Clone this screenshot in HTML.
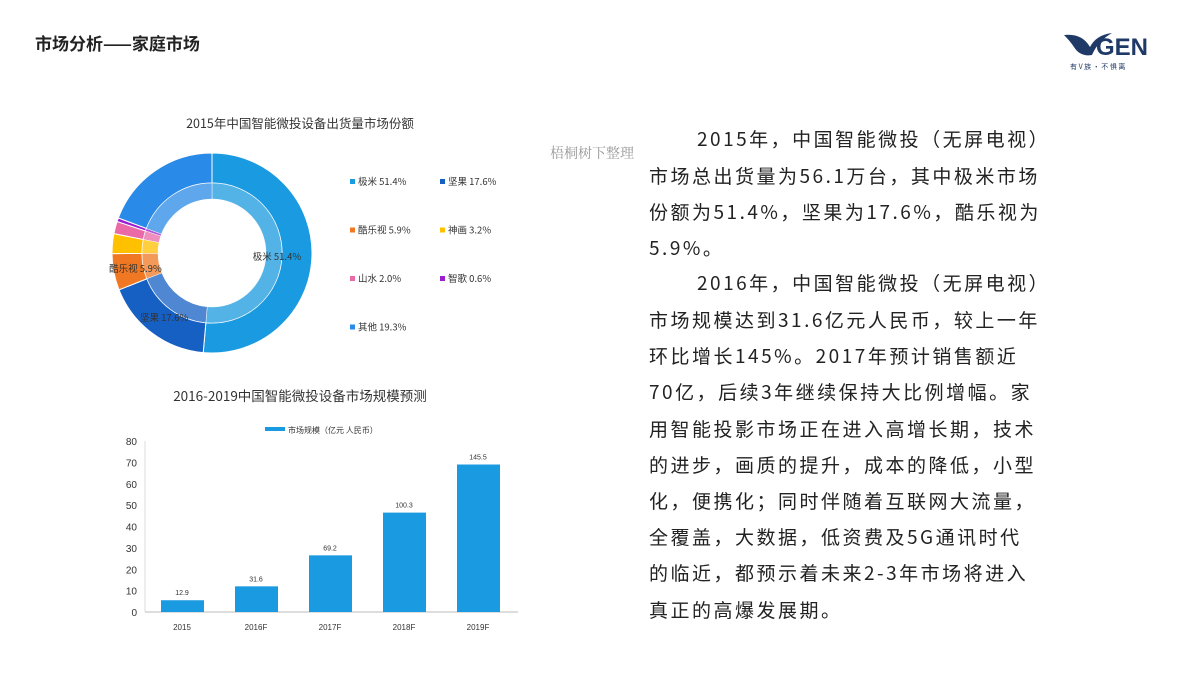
<!DOCTYPE html>
<html><head><meta charset="utf-8">
<style>
body{margin:0;width:1200px;height:675px;background:#fff;position:relative;overflow:hidden;font-family:"Liberation Sans","Noto Sans CJK SC",sans-serif;}
.abs{position:absolute;}
.para div{position:absolute;left:649px;white-space:nowrap;font-size:19px;color:#222;font-family:"Noto Sans CJK SC",sans-serif;letter-spacing:2.5px;}
</style></head><body>
<div class="abs" style="left:35px;top:30px;font-size:17px;font-weight:bold;color:#222;font-family:'Noto Sans CJK SC',sans-serif;">市场分析——家庭市场</div>
<div class="abs" style="left:1062px;top:25px;width:110px;height:50px;">
<svg width="110" height="50"><path d="M2 10 Q20 8 28 22 Q34 10 50 8 Q36 16 30 30 Q18 32 12 22 Q8 16 2 10Z" fill="#1f3a66"/>
<text x="34" y="30" font-family="Liberation Sans" font-weight="bold" font-size="24" fill="#1f3a66">GEN</text>
<text x="8" y="44" font-family="Noto Sans CJK SC" font-size="7" fill="#1f3a66">有 V 族 · 不 惧 离</text></svg></div>
<div class="abs" style="left:550px;top:143px;font-size:14px;color:#999;font-family:'Noto Serif CJK SC',serif;">梧桐树下整理</div>
<div class="para">
<div style="top:125px;left:697px">2015年，中国智能微投（无屏电视）</div>
<div style="top:162px">市场总出货量为56.1万台，其中极米市场</div>
<div style="top:198px">份额为51.4%，坚果为17.6%，酷乐视为</div>
<div style="top:234px">5.9%。</div>
<div style="top:269px;left:697px">2016年，中国智能微投（无屏电视）</div>
<div style="top:306px">市场规模达到31.6亿元人民币，较上一年</div>
<div style="top:342px">环比增长145%。2017年预计销售额近</div>
<div style="top:378px">70亿，后续3年继续保持大比例增幅。家</div>
<div style="top:415px">用智能投影市场正在进入高增长期，技术</div>
<div style="top:451px">的进步，画质的提升，成本的降低，小型</div>
<div style="top:487px">化，便携化；同时伴随着互联网大流量，</div>
<div style="top:523px">全覆盖，大数据，低资费及5G通讯时代</div>
<div style="top:559px">的临近，都预示着未来2-3年市场将进入</div>
<div style="top:596px">真正的高爆发展期。</div>
</div>
<svg id="donut" class="abs" style="left:0;top:0" width="540" height="380">
<text x="300" y="128" text-anchor="middle" font-size="12.5" fill="#333" font-family="Noto Sans CJK SC">2015年中国智能微投设备出货量市场份额</text>
</svg>
<svg id="bars" class="abs" style="left:0;top:380px" width="540" height="270">
<text x="300" y="21" text-anchor="middle" font-size="13.5" fill="#333" font-family="Noto Sans CJK SC">2016-2019中国智能微投设备市场规模预测</text>
<rect x="265" y="47" width="20" height="4" fill="#1a9ae0"/>
<text x="288" y="53" font-size="8" fill="#333" font-family="Noto Sans CJK SC">市场规模（亿元 人民币）</text>
</svg>
<script>
const sliceNames=["极米","坚果","酷乐视","神画","山水","智歌","其他"];
const sliceValues=[51.4,17.6,5.9,3.2,2.0,0.6,19.3];
const sliceColors=["#1a9ae0","#1660c4","#f07822","#ffc000","#ea6aa8","#9b1fd0","#2a8ae8"];
const barCats=["2015","2016F","2017F","2018F","2019F"];
const barHeights=[5.5,12,26.5,46.5,69];
const barLabels=["12.9","31.6","69.2","100.3","145.5"];
const yTicks=[0,10,20,30,40,50,60,70,80];
const NS="http://www.w3.org/2000/svg";
function mk(p,t,a){const e=document.createElementNS(NS,t);for(const k in a)e.setAttribute(k,a[k]);p.appendChild(e);return e;}
const d=document.getElementById('donut');const cx=212,cy=253,R=100,r2=70,r1=54;
const total=sliceValues.reduce((a,b)=>a+b,0);let acc=0;
function pt(rr,f){const a=f*2*Math.PI-Math.PI/2;return [cx+rr*Math.cos(a),cy+rr*Math.sin(a)];}
function arc(ro,ri,f0,f1){const L=(f1-f0)>0.5?1:0;const a=pt(ro,f0),b=pt(ro,f1),c=pt(ri,f1),e=pt(ri,f0);
return `M${a[0]} ${a[1]}A${ro} ${ro} 0 ${L} 1 ${b[0]} ${b[1]}L${c[0]} ${c[1]}A${ri} ${ri} 0 ${L} 0 ${e[0]} ${e[1]}Z`;}
sliceValues.forEach((v,i)=>{const f0=acc/total,f1=(acc+v)/total;acc+=v;
const s=mk(d,'path',{d:arc(R,r2,f0,f1),fill:sliceColors[i],stroke:'#fff','stroke-width':1});


const s2=mk(d,'path',{d:arc(r2,r1,f0,f1),fill:sliceColors[i],opacity:0.75,stroke:'#fff','stroke-width':0.5});


if(i<3){const m=pt(i==0?65:(i==1?80:78),(f0+f1)/2);
const t=mk(d,'text',{x:m[0],y:m[1]+4,'text-anchor':'middle','font-size':9.5,fill:'#333','font-family':'Noto Sans CJK SC'});t.textContent=sliceNames[i]+'  '+sliceValues[i].toFixed(1)+'%';

}
const col=i%2,row=Math.floor(i/2);const lx=350+col*90,ly=185+row*48.5;
const sw=mk(d,'rect',{x:lx,y:ly-6,width:5,height:5,fill:sliceColors[i]});


const lt=mk(d,'text',{x:lx+8,y:ly,'font-size':9.5,fill:'#333','font-family':'Noto Sans CJK SC'});lt.textContent=sliceNames[i]+'  '+sliceValues[i].toFixed(1)+'%';

});
const b=document.getElementById('bars');const y0=232,yPer=171/80,xL=145,xR=518;
const yS=v=>y0-v*yPer;const xC=i=>182+i*74;
mk(b,'line',{x1:xL,y1:yS(0),x2:xR,y2:yS(0),stroke:'#bbb'});
mk(b,'line',{x1:xL,y1:yS(0),x2:xL,y2:yS(80),stroke:'#ddd'});
yTicks.forEach(t=>{const e=mk(b,'text',{x:137,y:yS(t)+4,'text-anchor':'end','font-size':10,fill:'#333'});e.textContent=t;

});
barCats.forEach((c,i)=>{const x=xC(i);
const r=mk(b,'rect',{x:x-21,y:yS(barHeights[i]),width:43,height:barHeights[i]*yPer,fill:'#1a9ae0'});


const l=mk(b,'text',{x:x,y:yS(barHeights[i])-5,'text-anchor':'middle','font-size':7,fill:'#333'});l.textContent=barLabels[i];


const xl=mk(b,'text',{x:x,y:250,'text-anchor':'middle','font-size':8,fill:'#333'});xl.textContent=c;

});
</script>
</body></html>
